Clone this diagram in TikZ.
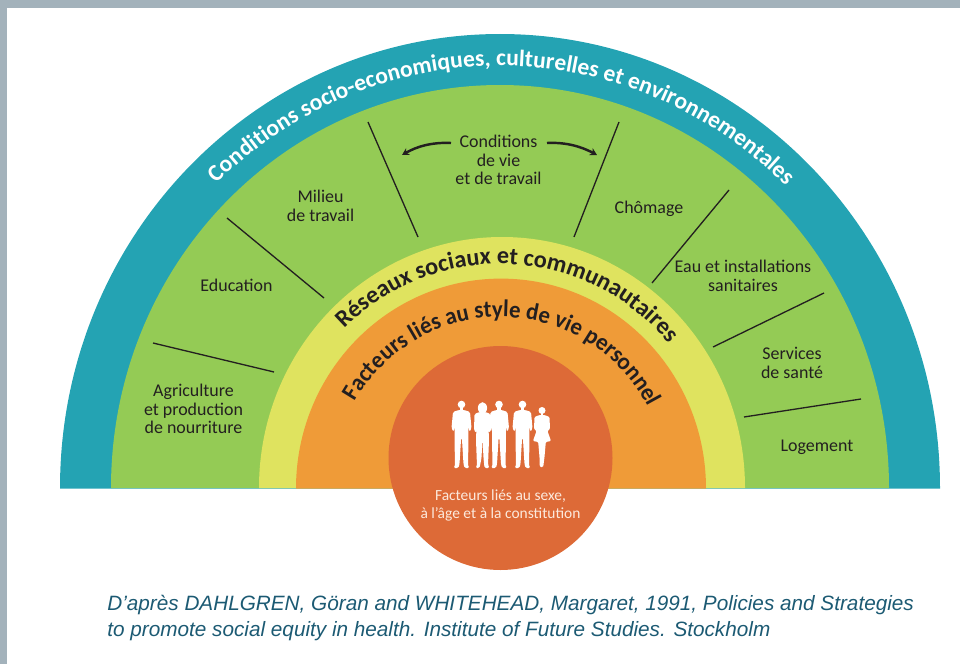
\documentclass[tikz,border=0pt]{standalone}
\usepackage{fontspec}
\setmainfont{Carlito}
\newfontfamily\captionfont{Liberation Sans}
\newfontfamily\narrowfont[FakeStretch=0.955]{Carlito}
\usetikzlibrary{arrows.meta,decorations.text}
\definecolor{framegray}{HTML}{A3B2BB}
\definecolor{bandteal}{HTML}{24A3B3}
\definecolor{bandgreen}{HTML}{94CB55}
\definecolor{bandyellow}{HTML}{DFE35F}
\definecolor{bandorange}{HTML}{EF9B38}
\definecolor{coreorange}{HTML}{DD6A37}
\definecolor{coretext}{HTML}{FCE9DC}
\definecolor{inkdark}{HTML}{231F20}
\definecolor{captionblue}{HTML}{1C5A73}
\newcommand{\tealfont}{\fontsize{13.4}{16}\selectfont\bfseries\color{white}}
\newcommand{\socialfont}{\fontsize{13.8}{16}\selectfont\bfseries\color{inkdark}}
\newcommand{\stylefont}{\narrowfont\fontsize{13.6}{16}\selectfont\bfseries\color{inkdark}}
\tikzset{
    label/.style={text=inkdark,align=center,font=\fontsize{10.2}{10.6}\selectfont},
    sepline/.style={inkdark,line width=0.75pt},
    bowarrow/.style={inkdark,line width=1.4pt,-{Stealth[length=4pt,width=4.5pt]}},
    manfig/.pic={
        \fill[white,rounded corners=0.8] (-2.8,58) -- (-8.5,56) -- (-10,40) -- (-8,36) -- (-6.8,42) -- (-7,30) -- (-6.5,2) -- (-8,0) -- (-3,0) -- (-2,4) -- (-0.4,30) -- (0.4,30) -- (2,4) -- (3,0) -- (8,0) -- (6.5,2) -- (7,30) -- (6.8,42) -- (8,36) -- (10,40) -- (8.5,56) -- (2.8,58) -- cycle;
        \fill[white] (0,63.5) circle (3.8);
        \fill[white] (-1.8,56) rectangle (1.8,62);
    },
    girlfig/.pic={
        \fill[white,rounded corners=0.8] (-3,56) -- (-8,54) -- (-8.5,38) -- (-6.5,35) -- (-6,41) -- (-6.5,28) -- (-5.5,2) -- (-7,0) -- (-3,0) -- (-1,10) -- (0,30) -- (1,10) -- (2,0) -- (7,0) -- (5.5,3) -- (6.5,28) -- (6,41) -- (6.5,35) -- (8.5,38) -- (8,54) -- (3,56) -- cycle;
        \fill[white] (0,60) ellipse (4.6 and 5.8);
    },
    dressfig/.pic={
        \fill[white,rounded corners=0.6] (-2.5,52) -- (-7.5,50) -- (-8,38) -- (-5.5,36) -- (-9,26) -- (-3.8,25) -- (-2.5,10) -- (-2.2,0) -- (1.2,0) -- (2.5,10) -- (3.8,25) -- (9,26) -- (5.5,36) -- (8,38) -- (7.5,50) -- (2.5,52) -- cycle;
        \fill[white] (0,56.5) circle (3.5);
        \fill[white] (-1.4,50) rectangle (1.4,55);
    },
}
\begin{document}
\begin{tikzpicture}[x=0.02cm,y=0.02cm]
    \useasboundingbox (0,0) rectangle (960,664);
    % page frame
    \fill[framegray] (0,0) rectangle (7,664);
    \fill[framegray] (0,656) rectangle (960,664);
    \coordinate (O) at (500,176);
    % half rings
    \fill[bandteal] (60,175.4) -- (60,176) arc[start angle=180,end angle=0,x radius=440,y radius=454] -- (940,175.4) -- cycle;
    \fill[bandgreen] (111,176) arc[start angle=180,end angle=0,x radius=389,y radius=403] -- cycle;
    \fill[bandyellow] (259,176) arc[start angle=180,end angle=0,x radius=243,y radius=251] -- cycle;
    \fill[bandorange] (296,175.4) arc[start angle=180,end angle=0,x radius=205,y radius=210] -- cycle;
    \fill[coreorange] (500.5,206) circle (112);
    % text on the rings
    \path[shift={(O)},decorate,decoration={text along path,text align=center,text={|\tealfont|Conditions socio-economiques, culturelles et environnementales}}] (169.7:409 and 422) arc[start angle=169.7,end angle=9.7,x radius=409,y radius=422];
    \path[shift={(O)},decorate,decoration={text along path,text align=center,text={|\socialfont|Réseaux sociaux et communautaires}}] (167.4:221 and 224) arc[start angle=167.4,end angle=7.4,x radius=221,y radius=224];
    \path[shift={(O)},decorate,decoration={text along path,text align=center,text={|\stylefont|Facteurs liés au style de vie personnel}}] (169:168 and 171) arc[start angle=169,end angle=9,x radius=168,y radius=171];
    % separators
    \draw[sepline] (153,321) -- (274,292);
    \draw[sepline] (227,446) -- (324,366);
    \draw[sepline] (368,542) -- (418,427);
    \draw[sepline] (619,542) -- (574,427);
    \draw[sepline] (729,474) -- (652,381);
    \draw[sepline] (824,371) -- (713,317);
    \draw[sepline] (861,265) -- (744,247);
    % labels
    \node[label] (agri) at (193.5,255) {Agriculture\\et production\\de nourriture};
    \node[label] (educ) at (236.5,379) {Education};
    \node[label] (milieu) at (320.5,458) {Milieu\\de travail};
    \node[label] (condvie) at (498.5,504) {Conditions\\de vie\\et de travail};
    \node[label] (chomage) at (649,455) {Chômage};
    \node[label] (eau) at (743,388) {Eau et installations\\sanitaires};
    \node[label] (sante) at (792,301) {Services\\de santé};
    \node[label] (logement) at (817,217) {Logement};
    % arrows of the living conditions
    \coordinate (tipleft) at (402,509);
    \coordinate (tipright) at (597,509);
    \draw[bowarrow] (451,521) .. controls (431,522) and (416,517) .. (tipleft);
    \draw[bowarrow] (547,521) .. controls (567,522) and (582,517) .. (tipright);
    % people
    \pic at (461.5,196) {manfig};
    \pic at (482.5,196) {girlfig};
    \pic at (499,196) {manfig};
    \pic at (522.5,196) {manfig};
    \pic at (542,197) {dressfig};
    \node[align=center,text=coretext,font=\fontsize{8.8}{10.2}\selectfont] (core) at (500.5,159) {Facteurs liés au sexe,\\à l’âge et à la constitution};
    % source
    \node[anchor=west,inner sep=0pt,align=left,text=captionblue,font=\captionfont\itshape\fontsize{11.8}{15.3}\selectfont] (source) at (107,46) {D’après DAHLGREN, Göran and WHITEHEAD, Margaret, 1991, Policies and Strategies\\to promote social equity in health. Institute of Future Studies. Stockholm};
\end{tikzpicture}
\end{document}
